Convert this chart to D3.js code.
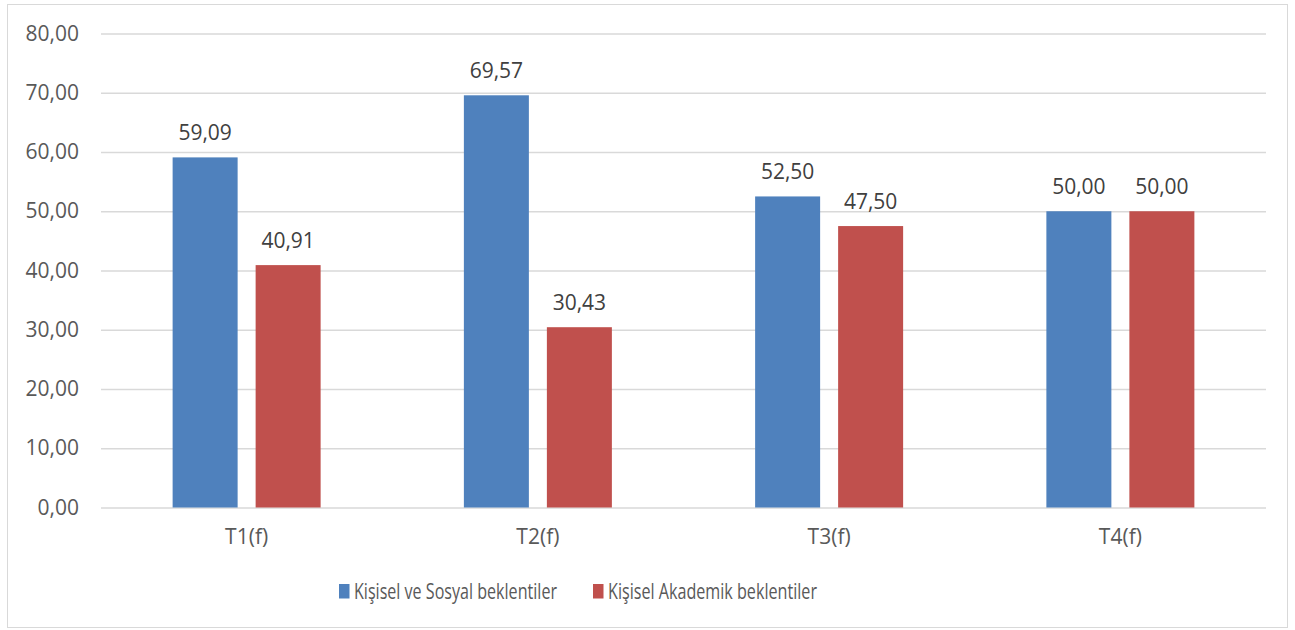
<!DOCTYPE html>
<html>
<head>
<meta charset="utf-8">
<script src="https://cdn.jsdelivr.net/npm/d3@7"></script>
<style>
  html, body { margin: 0; padding: 0; background: #fff; }
  svg { display: block; }
</style>
</head>
<body>
<svg id="chart" width="1295" height="630"></svg>
<script>
const categories = ['T1(f)', 'T2(f)', 'T3(f)', 'T4(f)'];
const seriesNames = ['Kişisel ve Sosyal beklentiler', 'Kişisel Akademik beklentiler'];
const sosyalValues = [59.09, 69.57, 52.50, 50.00];
const akademikValues = [40.91, 30.43, 47.50, 50.00];
const yTicks = [0, 10, 20, 30, 40, 50, 60, 70, 80];
const colors = ['#4F81BD', '#C0504D'];

const width = 1295;
const height = 630;
const font = '"Open Sans", "Noto Sans", sans-serif';
const fontSize = 21;
const margin = { top: 33.5, right: 29, bottom: 122.5, left: 101 };
const fmt = (v) => d3.format('.2f')(v).replace('.', ',');

const svg = d3.select('#chart').attr('font-family', font);
svg.append('rect').attr('x', 7.5).attr('y', 4.5).attr('width', 1280).attr('height', 623)
  .attr('fill', '#fff').attr('stroke', '#d9d9d9').attr('stroke-width', 1);

const x = d3.scaleBand().domain(categories).range([margin.left, width - margin.right]);
// two bars of 65px with an 18px gap, centred in each category band
const xInner = d3.scaleBand().domain(seriesNames).range([x.bandwidth() / 2 - 74, x.bandwidth() / 2 + 74]).paddingInner(18 / 83);
const y = d3.scaleLinear().domain([0, 80]).range([height - margin.bottom, margin.top]);

// gridlines + y tick labels
svg.append('g')
  .attr('transform', `translate(${margin.left},0)`)
  .call(d3.axisLeft(y).tickValues(yTicks).tickSize(-(width - margin.left - margin.right)).tickFormat(fmt))
  .call((g) => g.attr('font-family', font).attr('font-size', fontSize))
  .call((g) => g.select('.domain').remove())
  .call((g) => g.selectAll('.tick line').attr('stroke', '#d9d9d9').attr('stroke-width', 1.3))
  .call((g) => g.selectAll('.tick text').attr('x', -22).attr('fill', '#595959'));

const series = [sosyalValues, akademikValues];
const groups = svg.append('g').selectAll('g')
  .data(categories)
  .join('g')
  .attr('transform', (d) => `translate(${x(d)},0)`);

const rows = (d, i) => seriesNames.map((name, s) => ({ name, value: series[s][i], s }));

groups.selectAll('rect')
  .data(rows)
  .join('rect')
  .attr('x', (d) => xInner(d.name))
  .attr('width', xInner.bandwidth())
  .attr('y', (d) => y(d.value))
  .attr('height', (d) => y(0) - y(d.value))
  .attr('fill', (d) => colors[d.s]);

groups.selectAll('text.label')
  .data(rows)
  .join('text')
  .attr('class', 'label')
  .attr('x', (d) => xInner(d.name) + xInner.bandwidth() / 2)
  .attr('y', (d) => y(d.value) - 17.5)
  .attr('text-anchor', 'middle')
  .attr('fill', '#404040')
  .attr('font-size', fontSize)
  .text((d) => fmt(d.value));

// category labels
svg.append('g')
  .attr('transform', `translate(0,${y(0)})`)
  .call(d3.axisBottom(x).tickSize(0))
  .call((g) => g.attr('font-family', font).attr('font-size', fontSize))
  .call((g) => g.select('.domain').remove())
  .call((g) => g.selectAll('.tick text').attr('y', 36.5).attr('dy', null).attr('fill', '#595959'));

// legend
const legendX = [339, 593];
const legendTextLen = [203, 209];
const legend = svg.append('g').selectAll('g')
  .data(seriesNames)
  .join('g')
  .attr('transform', (d, i) => `translate(${legendX[i]},584)`);
legend.append('rect').attr('width', 10.5).attr('height', 14.5).attr('fill', (d, i) => colors[i]);
legend.append('text')
  .attr('x', 15).attr('y', 15)
  .attr('fill', '#595959').attr('font-size', fontSize)
  .attr('textLength', (d, i) => legendTextLen[i]).attr('lengthAdjust', 'spacingAndGlyphs')
  .text((d) => d);
</script>
</body>
</html>
